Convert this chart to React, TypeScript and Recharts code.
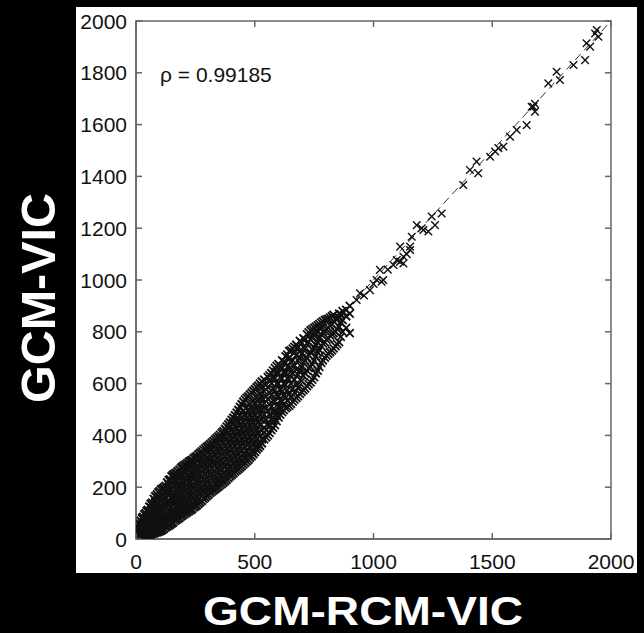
import { ScatterChart, Scatter, XAxis, YAxis, ReferenceLine, ReferenceArea } from 'recharts';

const xTicks = [0, 500, 1000, 1500, 2000];
const yTicks = [0, 200, 400, 600, 800, 1000, 1200, 1400, 1600, 1800, 2000];
const rhoText = 'ρ = 0.99185';
const xTitle = 'GCM-RCM-VIC';
const yTitle = 'GCM-VIC';

// dense part of the cloud, read column by column: [GCM-RCM-VIC, GCM-VIC values]
const denseCols: [number, number[]][] = [
  [5, [4, 14]],
  [12, [5, 20, 38]],
  [20, [8, 28, 50, 70]],
  [30, [10, 32, 58, 85]],
  [40, [13, 40, 68, 100]],
  [50, [15, 45, 78, 112]],
  [62, [18, 50, 85, 122, 135]],
  [75, [22, 55, 90, 125, 155]],
  [88, [26, 62, 98, 135, 172]],
  [100, [30, 68, 105, 145, 185]],
  [112, [36, 74, 112, 152, 195]],
  [125, [45, 82, 120, 160, 205]],
  [138, [52, 88, 128, 168, 210, 228]],
  [150, [60, 92, 125, 158, 190, 222, 242]],
  [163, [70, 105, 140, 172, 205, 236, 252]],
  [176, [78, 110, 145, 180, 212, 244, 262]],
  [190, [88, 122, 158, 192, 225, 255, 275]],
  [203, [96, 130, 165, 200, 235, 265, 285]],
  [216, [104, 140, 176, 210, 245, 275, 293]],
  [230, [112, 148, 185, 220, 256, 288, 302]],
  [243, [122, 158, 195, 232, 266, 298, 312]],
  [256, [130, 168, 205, 242, 278, 310, 320]],
  [270, [142, 178, 215, 252, 290, 318, 332]],
  [284, [155, 190, 228, 265, 300, 330, 344]],
  [298, [166, 200, 238, 275, 312, 342, 355]],
  [312, [178, 212, 250, 288, 325, 352, 366]],
  [326, [188, 225, 262, 298, 336, 365, 378]],
  [340, [198, 235, 272, 310, 348, 376, 390]],
  [354, [208, 246, 285, 322, 360, 390, 402]],
  [368, [218, 256, 295, 335, 372, 402, 416]],
  [382, [230, 268, 308, 348, 386, 418, 434]],
  [396, [242, 280, 320, 360, 400, 432, 450]],
  [410, [254, 292, 332, 372, 412, 448, 468]],
  [424, [265, 305, 345, 385, 425, 462, 488]],
  [438, [276, 316, 358, 398, 440, 478, 510]],
  [452, [288, 328, 370, 410, 452, 495, 530]],
  [466, [300, 340, 382, 425, 466, 508, 545]],
  [480, [314, 355, 396, 438, 480, 520, 558]],
  [494, [328, 368, 410, 452, 494, 534, 572]],
  [508, [345, 384, 425, 466, 508, 548, 586]],
  [522, [360, 398, 440, 480, 522, 562, 600]],
];

// second pass over the dense part, between the columns above
const denseColsB: [number, number[]][] = [
  [8, [9, 26]],
  [16, [6, 18, 40, 58]],
  [25, [9, 20, 42, 64, 80]],
  [35, [12, 25, 50, 75, 95]],
  [45, [14, 28, 55, 88, 108]],
  [56, [16, 32, 66, 100, 125]],
  [68, [20, 38, 70, 105, 140]],
  [81, [24, 42, 75, 110, 145, 165]],
  [94, [28, 48, 82, 120, 160, 180]],
  [106, [33, 52, 88, 128, 168, 192]],
  [118, [40, 58, 95, 135, 178, 200]],
  [131, [48, 65, 102, 142, 185, 218]],
  [144, [56, 75, 108, 145, 190, 230]],
  [156, [64, 80, 110, 142, 175, 206, 238, 248]],
  [170, [74, 90, 125, 160, 195, 228, 256]],
  [183, [82, 100, 135, 170, 205, 238, 268]],
  [196, [92, 108, 142, 176, 210, 245, 270, 280]],
  [210, [100, 120, 152, 190, 228, 260, 288]],
  [223, [108, 128, 165, 200, 238, 270, 298]],
  [236, [116, 135, 170, 205, 240, 275, 305]],
  [250, [126, 145, 185, 222, 260, 292, 316]],
  [263, [136, 155, 192, 230, 268, 305, 326]],
  [277, [148, 165, 200, 240, 280, 312, 338]],
  [291, [160, 178, 212, 250, 288, 322, 350]],
  [305, [172, 188, 222, 260, 298, 335, 360]],
  [319, [183, 198, 235, 272, 310, 345, 372]],
  [333, [193, 210, 245, 285, 322, 358, 384]],
  [347, [203, 220, 255, 295, 335, 368, 396]],
  [361, [213, 230, 268, 305, 345, 380, 410]],
  [375, [224, 240, 280, 318, 358, 395, 425]],
  [389, [236, 252, 292, 332, 372, 410, 442]],
  [403, [248, 265, 305, 345, 385, 422, 460]],
  [417, [260, 278, 318, 358, 398, 435, 478]],
  [431, [270, 290, 330, 372, 412, 452, 498]],
  [445, [282, 300, 342, 385, 425, 468, 520]],
  [459, [294, 312, 355, 398, 438, 480, 538]],
  [473, [306, 325, 368, 410, 452, 495, 550]],
  [487, [320, 338, 380, 422, 466, 508, 565]],
  [501, [336, 352, 395, 438, 480, 522, 578]],
  [515, [352, 368, 410, 452, 495, 540, 592]],
  [530, [370, 385, 420, 460, 500, 545, 590, 608]],
];

// looser part, 540-900, with gaps
const spreadCols: [number, number[]][] = [
  [540, [385, 430, 480, 525, 570, 615]],
  [555, [400, 445, 495, 540, 585, 625]],
  [570, [420, 465, 510, 555, 600, 640]],
  [585, [440, 490, 530, 575, 620, 660]],
  [600, [470, 510, 550, 600, 640, 675]],
  [615, [490, 530, 570, 620, 660, 690]],
  [630, [505, 545, 595, 640, 680, 705]],
  [645, [515, 560, 615, 660, 700, 725]],
  [660, [530, 580, 640, 690, 735]],
  [675, [545, 600, 655, 710, 750]],
  [690, [560, 650, 700, 725, 765]],
  [705, [575, 630, 680, 740, 775]],
  [720, [590, 650, 700, 755, 790]],
  [735, [605, 665, 720, 770, 805]],
  [750, [625, 690, 740, 785, 815]],
  [765, [650, 720, 760, 800, 825]],
  [780, [680, 745, 790, 835]],
  [795, [700, 760, 805, 845]],
  [810, [715, 775, 815, 850]],
  [825, [728, 790, 830, 860]],
  [840, [745, 800, 850]],
  [855, [760, 820, 855, 870]],
  [870, [800, 845, 880]],
  [885, [815, 860, 885]],
  [900, [795, 870, 900]],
];

const spreadColsB: [number, number[]][] = [
  [548, [392, 420, 460, 505, 550, 595]],
  [562, [410, 438, 480, 520, 565, 610, 632]],
  [577, [430, 455, 490, 535, 580, 625, 650]],
  [592, [455, 478, 515, 560, 600, 645, 668]],
  [607, [480, 500, 535, 580, 625, 668]],
  [622, [498, 520, 555, 600, 645, 685]],
  [637, [510, 535, 575, 620, 665, 712]],
  [652, [522, 548, 600, 645, 685, 728]],
  [667, [538, 565, 615, 670, 720, 742]],
  [682, [552, 585, 635, 690, 740]],
  [697, [568, 610, 665, 715, 758]],
  [712, [582, 640, 690, 735, 770]],
  [727, [598, 660, 710, 760, 798]],
  [742, [615, 675, 730, 778, 810]],
  [757, [640, 705, 750, 795, 820]],
  [772, [665, 730, 775, 815, 830]],
  [787, [690, 755, 800, 840]],
  [802, [708, 770, 810, 848]],
  [817, [722, 785, 825, 855]],
  [832, [736, 795, 840, 865]],
  [847, [752, 810, 852]],
  [862, [780, 835, 868]],
];

// single crosses along the upper tail
const tailPoints: [number, number][] = [
  [929, 923], [943, 949], [960, 940], [985, 961], [1000, 985], [1013, 1000], [1027, 1039],
  [1034, 993], [1041, 1000], [1060, 1040], [1084, 1058], [1098, 1077], [1112, 1071],
  [1112, 1129], [1126, 1090], [1126, 1064], [1140, 1100], [1154, 1129], [1154, 1116],
  [1161, 1167], [1182, 1212], [1203, 1200], [1210, 1193], [1231, 1187], [1245, 1245],
  [1259, 1212], [1287, 1257], [1378, 1367], [1406, 1425], [1434, 1457], [1441, 1412],
  [1491, 1476], [1512, 1496], [1526, 1509], [1547, 1515], [1575, 1553], [1603, 1579],
  [1645, 1598], [1666, 1669], [1673, 1669], [1680, 1650], [1680, 1680], [1736, 1759],
  [1771, 1804], [1785, 1772], [1842, 1830], [1891, 1849], [1897, 1914], [1912, 1901],
  [1933, 1952], [1947, 1939], [1940, 1965],
];

const fromCols = (cols: [number, number[]][]) => cols.flatMap(([x, ys]) => ys.map(y => ({ x, y })));

const densePoints = [...fromCols(denseCols), ...fromCols(denseColsB)];
const spreadPoints = [...fromCols(spreadCols), ...fromCols(spreadColsB)];
const tailData = tailPoints.map(([x, y]) => ({ x, y }));

const W = 644;
const H = 633;
const PLOT_LEFT = 136;
const PLOT_RIGHT = 611;
const PLOT_TOP = 21;
const PLOT_BOTTOM = 539;
const FONT = '"Liberation Sans", Arial, sans-serif';
const AXIS = '#666';

const makeMark = (r: number, sw: number) => (props: any) => {
  const { cx, cy } = props;
  return (
    <path
      d={`M${cx - r},${cy - r}L${cx + r},${cy + r}M${cx - r},${cy + r}L${cx + r},${cy - r}`}
      stroke="#111"
      strokeWidth={sw}
      fill="none"
    />
  );
};
const DenseMark = makeMark(4, 2);
const SpreadMark = makeMark(4, 1.8);
const TailMark = makeMark(3.8, 1.4);

const YTick = (props: any) => {
  const { y, payload } = props;
  return (
    <g>
      <text x={PLOT_LEFT - 9} y={y} dy={7.5} textAnchor="end" fontSize={21} fontFamily={FONT} fill="#111">
        {payload.value}
      </text>
      <line x1={PLOT_LEFT} x2={PLOT_LEFT + 6} y1={y} y2={y} stroke={AXIS} strokeWidth={1.5} />
      <line x1={PLOT_RIGHT - 6} x2={PLOT_RIGHT} y1={y} y2={y} stroke={AXIS} strokeWidth={1.5} />
    </g>
  );
};

const XTick = (props: any) => {
  const { x, payload } = props;
  return (
    <g>
      <text x={x} y={PLOT_BOTTOM + 30} textAnchor="middle" fontSize={21} fontFamily={FONT} fill="#111">
        {payload.value}
      </text>
      <line x1={x} x2={x} y1={PLOT_BOTTOM} y2={PLOT_BOTTOM - 6} stroke={AXIS} strokeWidth={1.5} />
      <line x1={x} x2={x} y1={PLOT_TOP} y2={PLOT_TOP + 6} stroke={AXIS} strokeWidth={1.5} />
    </g>
  );
};

export default function App() {
  return (
    <div style={{ position: 'absolute', left: 0, top: 0, width: W, height: H, background: '#000', overflow: 'hidden' }}>
      <div style={{ position: 'absolute', left: 76, top: 7, width: 561, height: 566, background: '#fff' }} />
      <div style={{ position: 'absolute', left: 0, top: 0 }}>
        <ScatterChart width={W} height={H} margin={{ top: PLOT_TOP, right: W - PLOT_RIGHT, bottom: 54, left: 76 }}>
          <XAxis
            type="number"
            dataKey="x"
            domain={[0, 2000]}
            ticks={xTicks}
            allowDataOverflow
            height={40}
            tickLine={false}
            axisLine={{ stroke: AXIS, strokeWidth: 1.5 }}
            tick={<XTick />}
            interval={0}
          />
          <YAxis
            type="number"
            dataKey="y"
            domain={[0, 2000]}
            ticks={yTicks}
            allowDataOverflow
            width={60}
            tickLine={false}
            axisLine={{ stroke: AXIS, strokeWidth: 1.5 }}
            tick={<YTick />}
            interval={0}
          />
          <ReferenceArea x1={0} x2={2000} y1={0} y2={2000} fill="none" fillOpacity={0} stroke={AXIS} strokeWidth={1.5} />
          <ReferenceLine
            segment={[{ x: 0, y: 0 }, { x: 2000, y: 2000 }]}
            stroke="#333"
            strokeWidth={1}
            strokeDasharray="8 5"
          />
          <Scatter data={tailData} shape={<TailMark />} isAnimationActive={false} />
          <Scatter data={spreadPoints} shape={<SpreadMark />} isAnimationActive={false} />
          <Scatter data={densePoints} shape={<DenseMark />} isAnimationActive={false} />
        </ScatterChart>
      </div>
      <svg width={W} height={H} style={{ position: 'absolute', left: 0, top: 0, pointerEvents: 'none' }}>
        <text x={160} y={82} fontSize={21} fontFamily={FONT} fill="#111">{rhoText}</text>
        <text
          x={203}
          y={625}
          fontSize={40}
          fontWeight="bold"
          fontFamily={FONT}
          fill="#fff"
          textLength={320}
          lengthAdjust="spacingAndGlyphs"
        >
          {xTitle}
        </text>
        <text
          transform="translate(55,403) rotate(-90)"
          fontSize={48}
          fontWeight="bold"
          fontFamily={FONT}
          fill="#fff"
          textLength={210}
          lengthAdjust="spacingAndGlyphs"
        >
          {yTitle}
        </text>
      </svg>
    </div>
  );
}
